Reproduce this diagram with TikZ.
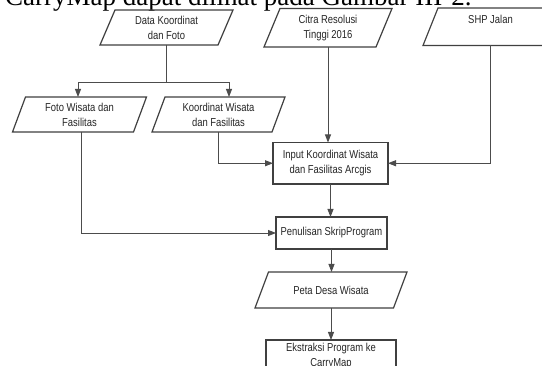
\documentclass[tikz,border=0pt]{standalone}
\usepackage{fontspec}
\setmainfont{Liberation Sans}[FakeStretch=0.82]
\newfontfamily\topserif{Liberation Serif}
\usetikzlibrary{arrows.meta,calc}
\tikzset{
  lbl/.style={font=\fontsize{11.5}{15}\selectfont, text=black!85, align=center, inner sep=0pt, outer sep=0pt},
  shapeline/.style={draw=black!75, line width=1.2pt, line join=miter},
  procbox/.style={lbl, shapeline},
  conn/.style={draw=black!70, line width=0.9pt},
  arr/.style={conn, -{Triangle[length=8pt,width=6pt]}}
}
\newcommand\iopara[7]{% name, cx, cy, w, h, slant, text
  \node[lbl, minimum width=#4pt, minimum height=#5pt] (#1) at (#2,#3) {#7};
  \draw[shapeline] ($(#1.north west)+(#6/2,0)$) -- ($(#1.north east)+(#6/2,0)$)
    -- ($(#1.south east)-(#6/2,0)$) -- ($(#1.south west)-(#6/2,0)$) -- cycle;
}
\begin{document}
\begin{tikzpicture}[x=1pt,y=-1pt]
\useasboundingbox (0,0) rectangle (542,366);
\fill[white] (0,0) rectangle (542,366);
\clip (0,0) rectangle (542,366);

\node[anchor=base west, inner sep=0pt, font=\topserif\fontsize{27}{30}\selectfont] (cap) at (5,5.5) {CarryMap dapat dilihat pada Gambar III-2.};

\iopara{data}{166.5}{27.5}{118}{35}{15}{Data Koordinat\\dan Foto}
\iopara{citra}{328}{27.75}{112}{38.5}{16}{Citra Resolusi\\Tinggi 2016}
\iopara{shp}{490.5}{26.75}{120}{37.5}{15}{SHP Jalan\\~}
\iopara{foto}{79.5}{114.5}{121}{35}{13}{Foto Wisata dan\\Fasilitas}
\iopara{koord}{218.5}{114.5}{120}{35}{13}{Koordinat Wisata\\dan Fasilitas}

\node[procbox, minimum width=115pt, minimum height=41.5pt] (input) at (330.5,163.25) {Input Koordinat Wisata\\dan Fasilitas Arcgis};
\node[procbox, minimum width=111pt, minimum height=32pt] (pen) at (331.5,233) {Penulisan SkripProgram};
\iopara{peta}{331}{290}{138.5}{36}{13.5}{Peta Desa Wisata}
\node[procbox, minimum width=130pt, minimum height=32pt] (ekst) at (331,356) {Ekstraksi Program ke\\CarryMap};

\coordinate (br) at (166.5,82);
\draw[conn] (data.south) -- (br);
\draw[arr] (br) -| ($(foto.north)+(-1.5,0)$);
\draw[arr] (br) -| ($(koord.north)+(10.5,0)$);

\draw[arr] (citra.south) -- (citra.south |- input.north);
\draw[arr] (shp.south) |- (input.east);
\draw[arr] (koord.south) |- (input.west);
\draw[arr] ($(foto.south)+(2,0)$) |- (pen.west);
\draw[arr] (input.south) -- (input.south |- pen.north);
\draw[arr] (pen.south) -- (pen.south |- peta.north);
\draw[arr] (peta.south) -- (peta.south |- ekst.north);
\end{tikzpicture}
\end{document}
